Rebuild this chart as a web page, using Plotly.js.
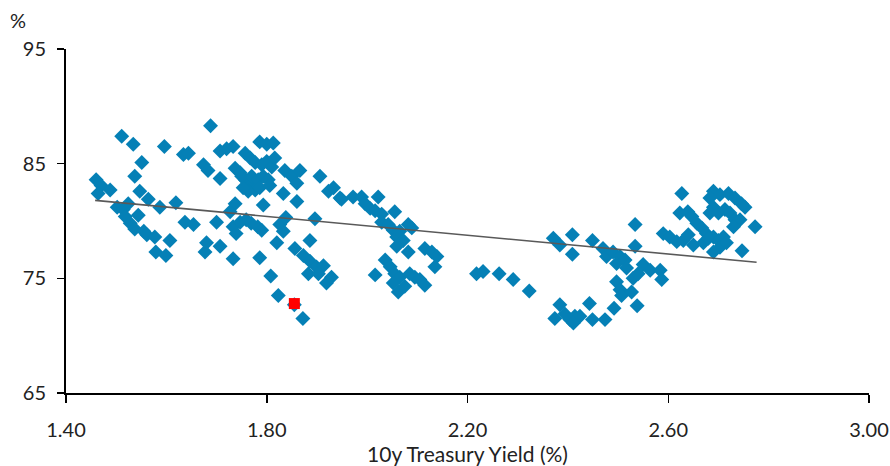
<!DOCTYPE html>
<html>
<head>
<meta charset="utf-8">
<script src="https://cdn.plot.ly/plotly-3.0.1.min.js"></script>
<style>html,body{margin:0;padding:0;background:#fff;}#chart{width:890px;height:466px;}</style>
</head>
<body>
<div id="chart"></div>
<script>
// 10y Treasury yield (%) vs. ratio (%)
const yieldX = [
1.460,1.470,1.464,1.488,1.511,1.534,1.596,1.634,1.644,1.551,
1.537,1.547,1.564,1.587,1.619,1.502,1.514,1.524,1.518,1.544,
1.528,1.537,1.555,1.561,1.577,1.607,1.637,1.654,1.579,1.599,
1.688,1.674,1.683,1.707,1.720,1.733,1.707,1.700,1.680,1.677,
1.707,1.733,1.786,1.800,1.813,1.757,1.767,1.777,1.790,1.800,
1.810,1.816,1.737,1.747,1.757,1.767,1.777,1.763,1.753,1.750,
1.770,1.783,1.793,1.803,1.786,1.806,1.836,1.850,1.860,1.866,
1.833,1.860,1.737,1.793,1.906,1.923,1.933,1.946,1.727,1.733,
1.747,1.759,1.769,1.739,1.782,1.790,1.826,1.838,1.833,1.896,
1.820,1.786,1.808,1.823,1.872,1.856,1.873,1.886,1.886,1.899,
1.913,1.883,1.903,1.919,1.929,1.949,1.972,1.989,1.996,2.006,
2.022,2.016,2.029,2.055,2.029,2.042,2.052,2.059,2.065,2.082,
2.089,2.072,2.059,2.082,2.115,2.129,2.139,2.135,2.016,2.036,
2.046,2.055,2.065,2.052,2.062,2.075,2.085,2.095,2.105,2.115,
2.218,2.231,2.263,2.291,2.323,2.371,2.384,2.409,2.409,2.449,
2.470,2.477,2.490,2.504,2.497,2.514,2.517,2.534,2.534,2.497,
2.504,2.507,2.530,2.527,2.538,2.384,2.374,2.394,2.404,2.414,
2.424,2.411,2.443,2.449,2.474,2.492,2.550,2.564,2.584,2.587,
2.540,2.627,2.690,2.703,2.720,2.733,2.746,2.753,2.683,2.690,
2.683,2.700,2.713,2.723,2.733,2.743,2.730,2.773,2.623,2.639,
2.647,2.657,2.667,2.676,2.690,2.590,2.603,2.617,2.630,2.640,
2.650,2.670,2.680,2.700,2.710,2.703,2.690,2.716,2.747,1.855
];
const ratioY = [
83.6,83.1,82.4,82.7,87.4,86.7,86.5,85.8,85.9,85.1,
83.9,82.6,81.9,81.2,81.6,81.2,81.0,81.5,80.4,80.5,
79.8,79.3,79.1,78.8,78.6,78.3,79.9,79.7,77.3,77.0,
88.3,84.9,84.4,86.1,86.3,86.5,83.7,79.9,78.1,77.3,
77.8,76.7,86.9,86.7,86.8,85.9,85.5,85.1,84.9,85.2,
84.7,85.5,84.6,84.2,83.6,83.1,82.7,82.6,82.9,83.9,
83.9,83.6,83.9,83.6,82.9,83.1,84.4,83.9,83.3,84.4,
82.4,81.7,81.5,81.4,83.9,82.6,82.9,82.0,80.8,79.5,
79.9,80.1,79.8,78.9,79.5,79.2,79.7,80.3,79.1,80.2,
78.1,76.8,75.2,73.5,71.5,77.6,77.0,76.5,78.3,76.0,
76.1,75.4,75.4,74.6,75.1,81.9,82.1,82.1,81.5,81.1,
82.1,80.9,80.6,80.8,79.9,79.7,79.2,78.6,79.1,79.7,
79.4,78.3,77.8,77.3,77.6,77.3,76.9,76.0,75.3,76.6,
76.0,75.4,75.1,74.6,73.8,74.3,75.4,75.1,74.9,74.4,
75.4,75.6,75.4,74.9,73.9,78.5,77.9,78.8,77.1,78.3,
77.6,76.9,77.3,76.9,76.3,76.6,75.9,79.7,77.8,74.7,
74.0,73.5,75.0,73.8,72.6,72.7,71.5,71.9,71.4,71.7,
71.7,71.1,72.8,71.4,71.4,72.4,76.2,75.7,75.7,74.9,
75.4,82.4,82.6,82.3,82.4,82.0,81.5,81.2,82.0,81.2,
80.7,80.7,81.0,80.7,80.1,80.1,79.5,79.5,80.7,80.8,
80.4,79.8,79.4,78.9,78.6,78.9,78.6,78.2,78.3,78.8,
77.9,78.1,78.5,78.3,78.6,77.7,77.3,78.1,77.4,72.7
];
// latest observation (highlighted)
const latestX = [1.855];
const latestY = [72.8];
// linear trend line end points
const trendX = [1.458, 2.776];
const trendY = [81.8, 76.4];
// axis ticks
const xTicks = [1.40, 1.80, 2.20, 2.60, 3.00];
const xTickText = ['1.40', '1.80', '2.20', '2.60', '3.00'];
const yTicks = [65, 75, 85, 95];

const font = 'Lato, "Noto Sans", sans-serif';

const traces = [
  {
    x: yieldX, y: ratioY, type: 'scatter', mode: 'markers',
    marker: {symbol: 'diamond', size: 11.5, color: '#0580B6', line: {width: 0}},
    hoverinfo: 'x+y', showlegend: false
  },
  {
    x: trendX, y: trendY, type: 'scatter', mode: 'lines',
    line: {color: '#595959', width: 1.6},
    hoverinfo: 'skip', showlegend: false
  },
  {
    x: latestX, y: latestY, type: 'scatter', mode: 'markers',
    marker: {symbol: 'square', size: 11, color: '#FF0000', line: {width: 0}},
    hoverinfo: 'x+y', showlegend: false
  }
];

const layout = {
  width: 890, height: 466,
  margin: {l: 66, r: 21, t: 49, b: 73, pad: 0},
  paper_bgcolor: '#ffffff', plot_bgcolor: '#ffffff',
  font: {family: font, size: 20, color: '#222222'},
  xaxis: {
    range: [1.40, 3.00], tickvals: xTicks, ticktext: xTickText,
    showgrid: false, zeroline: false,
    showline: true, linecolor: '#000000', linewidth: 2,
    ticks: 'outside', ticklen: 8, tickwidth: 1.5, tickcolor: '#000000',
    ticklabelstandoff: 10,
    tickfont: {family: font, size: 20, color: '#222222'},
    title: {text: '10y Treasury Yield (%)', font: {family: font, size: 21, color: '#222222'}, standoff: 4}
  },
  yaxis: {
    range: [65, 95], tickvals: yTicks,
    showgrid: false, zeroline: false,
    showline: true, linecolor: '#000000', linewidth: 2,
    ticks: 'outside', ticklen: 7, tickwidth: 1.5, tickcolor: '#000000',
    ticklabelstandoff: 7,
    tickfont: {family: font, size: 20, color: '#222222'}
  },
  annotations: [{
    text: '%', xref: 'paper', yref: 'paper', x: -0.072, y: 1.085,
    xanchor: 'left', yanchor: 'middle', showarrow: false,
    font: {family: font, size: 20, color: '#222222'}
  }]
};

Plotly.newPlot('chart', traces, layout, {displayModeBar: false, staticPlot: true});
</script>
</body>
</html>
